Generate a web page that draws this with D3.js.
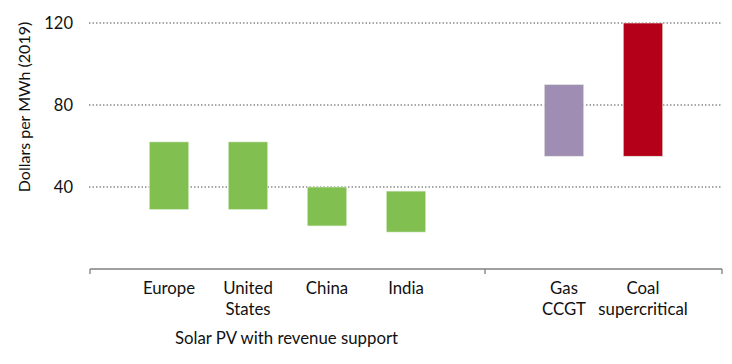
<!DOCTYPE html>
<html>
<head>
<meta charset="utf-8">
<script src="https://d3js.org/d3.v7.min.js"></script>
<style>
  body { margin: 0; background: #fff; }
  svg text { font-family: Lato, "Open Sans", sans-serif; fill: #111; }
</style>
</head>
<body>
<div id="chart"></div>
<script>
// slots along the category axis (blank ones make the gaps and group divider)
var slots = ["s0", "Europe", "United States", "China", "India", "s5", "Gas CCGT", "Coal supercritical", "s8"];
var categories = ["Europe", "United States", "China", "India", "Gas CCGT", "Coal supercritical"];
var labelLines = [["Europe"], ["United", "States"], ["China"], ["India"], ["Gas", "CCGT"], ["Coal", "supercritical"]];
var lowValues = [29, 29, 21, 18, 55, 55];
var highValues = [62, 62, 40, 38, 90, 120];
var barColors = ["#80bf50", "#80bf50", "#80bf50", "#80bf50", "#a08db3", "#b5001a"];
var yTicks = [40, 80, 120];
var groupTitle = "Solar PV with revenue support";

var W = 732, H = 364;
var svg = d3.select("#chart").append("svg")
  .attr("width", W)
  .attr("height", H);

var x = d3.scalePoint()
  .domain(slots)
  .range([90, 722]);

var y = d3.scaleLinear()
  .domain([0, 120])
  .range([269, 23]);

var barW = x.step() / 2;

// dotted gridlines
svg.append("g")
  .selectAll("line")
  .data(yTicks)
  .enter().append("line")
    .attr("x1", 89)
    .attr("x2", 722)
    .attr("y1", d => y(d))
    .attr("y2", d => y(d))
    .attr("stroke", "#8c8c8c")
    .attr("stroke-width", 1.3)
    .attr("stroke-dasharray", "1.5 2");

// y tick labels
svg.append("g")
  .selectAll("text")
  .data(yTicks)
  .enter().append("text")
    .attr("x", 73)
    .attr("y", d => y(d))
    .attr("dy", "0.36em")
    .attr("text-anchor", "end")
    .style("font-size", "16.5px")
    .text(d => d);

// y axis title
svg.append("text")
  .attr("transform", "translate(30,107) rotate(-90)")
  .attr("text-anchor", "middle")
  .style("font-size", "16px")
  .text("Dollars per MWh (2019)");

// floating bars
svg.append("g")
  .selectAll("rect")
  .data(categories)
  .enter().append("rect")
    .attr("x", d => x(d) - barW / 2)
    .attr("width", barW)
    .attr("y", (d, i) => y(highValues[i]))
    .attr("height", (d, i) => y(lowValues[i]) - y(highValues[i]))
    .attr("fill", (d, i) => barColors[i])
    .attr("stroke", "#e6f0e0")
    .attr("stroke-width", 0.6);

// category axis line with end ticks and group divider
svg.append("line")
  .attr("x1", x("s0"))
  .attr("x2", x("s8"))
  .attr("y1", y(0))
  .attr("y2", y(0))
  .attr("stroke", "#7f7f7f")
  .attr("stroke-width", 1.3);

svg.append("g")
  .selectAll("line")
  .data(["s0", "s5", "s8"])
  .enter().append("line")
    .attr("x1", d => x(d))
    .attr("x2", d => x(d))
    .attr("y1", y(0))
    .attr("y2", y(0) + 5)
    .attr("stroke", "#7f7f7f")
    .attr("stroke-width", 1.3);

// category labels
var lab = svg.append("g")
  .selectAll("text")
  .data(categories)
  .enter().append("text")
    .attr("x", d => x(d))
    .attr("y", 294)
    .attr("text-anchor", "middle")
    .style("font-size", "16.8px");

lab.selectAll("tspan")
  .data((d, i) => labelLines[i])
  .enter().append("tspan")
    .attr("x", function() { return d3.select(this.parentNode).attr("x"); })
    .attr("dy", (d, i) => i === 0 ? 0 : 21)
    .text(d => d);

// group title
svg.append("text")
  .attr("x", (x("Europe") + x("India")) / 2 - 1)
  .attr("y", 344)
  .attr("text-anchor", "middle")
  .style("font-size", "16.8px")
  .text(groupTitle);
</script>
</body>
</html>
